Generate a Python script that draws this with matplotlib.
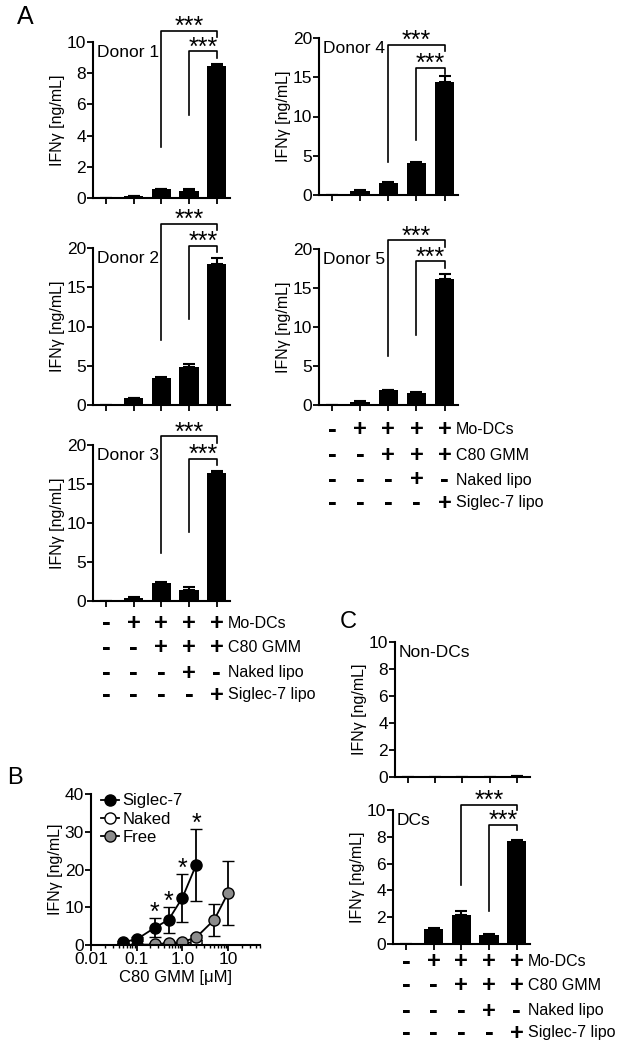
import numpy as np
import matplotlib
matplotlib.use("Agg")
import matplotlib.pyplot as plt
from matplotlib.lines import Line2D

plt.rcParams['font.family'] = ['Liberation Sans', 'DejaVu Sans']

#bar panels: IFNg per condition
conditions = [0, 1, 2, 3, 4]
donor1_vals = [0.0, 0.1, 0.55, 0.45, 8.45]
donor1_err = [0.0, 0.03, 0.05, 0.1, 0.15]
donor2_vals = [0.05, 0.85, 3.45, 4.85, 17.9]
donor2_err = [0.0, 0.08, 0.12, 0.4, 0.8]
donor3_vals = [0.0, 0.4, 2.3, 1.45, 16.4]
donor3_err = [0.0, 0.1, 0.15, 0.4, 0.3]
donor4_vals = [0.0, 0.55, 1.5, 4.1, 14.4]
donor4_err = [0.0, 0.1, 0.1, 0.1, 0.7]
donor5_vals = [0.0, 0.35, 1.9, 1.6, 16.1]
donor5_err = [0.0, 0.1, 0.08, 0.08, 0.7]
nondc_vals = [0.0, 0.0, 0.0, 0.0, 0.05]
nondc_err = [0.0, 0.0, 0.0, 0.0, 0.05]
dc_vals = [0.0, 1.1, 2.15, 0.7, 7.7]
dc_err = [0.0, 0.1, 0.35, 0.05, 0.05]

row_labels = ['Mo-DCs', 'C80 GMM', 'Naked lipo', 'Siglec-7 lipo']
row_signs = [['-', '+', '+', '+', '+'],
             ['-', '-', '+', '+', '+'],
             ['-', '-', '-', '+', '-'],
             ['-', '-', '-', '-', '+']]

#dose response (panel B)
conc_siglec = [0.05, 0.1, 0.25, 0.5, 1.0, 2.0]
ifn_siglec = [0.8, 1.5, 4.6, 6.7, 12.5, 21.2]
sd_siglec = [0.3, 0.5, 2.6, 3.4, 6.3, 9.5]
conc_naked = [0.05, 0.1, 0.25, 0.5, 1.0, 2.0]
ifn_naked = [0.0, 0.1, 0.1, 0.2, 0.3, 0.9]
sd_naked = [0.1, 0.1, 0.1, 0.1, 0.2, 0.3]
conc_free = [0.25, 0.5, 1.0, 2.0, 5.0, 10.0]
ifn_free = [0.2, 0.5, 0.8, 2.0, 6.7, 13.8]
sd_free = [0.2, 0.3, 0.5, 0.6, 4.2, 8.5]
star_conc = [0.25, 0.5, 1.0, 2.0]

W, H = 621, 1050
fig = plt.figure(figsize=(W / 100, H / 100), dpi=100)


def px_axes(l, t, r, b):
    return fig.add_axes([l / W, 1 - b / H, (r - l) / W, (b - t) / H])


def style(ax):
    for s in ['top', 'right']:
        ax.spines[s].set_visible(False)
    for s in ['left', 'bottom']:
        ax.spines[s].set_linewidth(1.5)
    ax.tick_params(direction='out', length=4, width=1.3, labelsize=12.5, pad=1)
    ax.set_ylabel('IFN\u03b3 [ng/mL]', fontsize=11.5, labelpad=1)


def bar_panel(ax, vals, errs, ymax, step, title, sig):
    ax.bar(conditions, vals, width=0.7, color='black')
    ax.errorbar(conditions, vals, yerr=[np.zeros(5), errs], fmt='none',
                ecolor='black', elinewidth=1.5, capsize=4, capthick=1.5)
    ax.set_xlim(-0.47, 4.48)
    ax.set_ylim(0, ymax)
    ax.set_yticks(np.arange(0, ymax + 0.1, step))
    ax.set_xticks(conditions)
    ax.set_xticklabels([])
    style(ax)
    ax.text(0.03, 0.98, title, transform=ax.transAxes, va='top', ha='left', fontsize=12.5)
    for x0, yb, yl in sig:
        drop = ymax * 0.04
        ax.plot([x0, x0, 4, 4], [yl, yb, yb, yb - drop], color='black', lw=1.2,
                clip_on=False)
        ax.annotate('***', xy=((x0 + 4) / 2, yb), xytext=(0, -3),
                    textcoords='offset pixels', ha='center', va='baseline',
                    fontsize=18, annotation_clip=False)


def table(ax, offsets):
    for r, (lab, signs) in enumerate(zip(row_labels, row_signs)):
        for i, s in enumerate(signs):
            fs = 17 if s == '+' else 19
            ax.annotate(s, xy=(i, 0), xycoords=('data', 'axes fraction'),
                        xytext=(0, -offsets[r]), textcoords='offset pixels',
                        ha='center', va='center', fontsize=fs, fontweight='bold',
                        annotation_clip=False)
        ax.annotate(lab, xy=(4, 0), xycoords=('data', 'axes fraction'),
                    xytext=(11, -offsets[r]), textcoords='offset pixels',
                    ha='left', va='center', fontsize=11.5, annotation_clip=False)


ax1 = px_axes(93, 42, 230, 198)
bar_panel(ax1, donor1_vals, donor1_err, 10, 2, 'Donor 1', [(2, 10.7, 3.3), (3, 9.4, 5.3)])
ax2 = px_axes(93, 248, 230, 405)
bar_panel(ax2, donor2_vals, donor2_err, 20, 5, 'Donor 2', [(2, 23.1, 8.3), (3, 20.3, 11.0)])
ax3 = px_axes(93, 445, 230, 601)
bar_panel(ax3, donor3_vals, donor3_err, 20, 5, 'Donor 3', [(2, 21.1, 6.1), (3, 18.2, 8.9)])
table(ax3, [22, 47, 72, 94])
ax4 = px_axes(319, 38, 458, 195)
bar_panel(ax4, donor4_vals, donor4_err, 20, 5, 'Donor 4', [(2, 19.1, 4.25), (3, 16.2, 7.0)])
ax5 = px_axes(319, 249, 458, 405)
bar_panel(ax5, donor5_vals, donor5_err, 20, 5, 'Donor 5', [(2, 21.1, 6.3), (3, 18.4, 9.0)])
table(ax5, [25, 50, 75, 98])

axc1 = px_axes(395, 642, 530, 777)
bar_panel(axc1, nondc_vals, nondc_err, 10, 2, 'Non-DCs', [])
axc2 = px_axes(393, 810, 530, 944)
bar_panel(axc2, dc_vals, dc_err, 10, 2, 'DCs', [(2, 10.4, 4.4), (3, 8.9, 2.5)])
table(axc2, [18, 41, 67, 89])

#panel B
axb = px_axes(91, 794, 260, 945)
axb.errorbar(conc_naked, ifn_naked, yerr=sd_naked, color='black', marker='o', ms=8,
             mfc='white', mec='black', lw=1.3, capsize=4)
axb.errorbar(conc_free, ifn_free, yerr=sd_free, color='black', marker='o', ms=8,
             mfc='#8c8c8c', mec='black', lw=1.3, capsize=4)
axb.errorbar(conc_siglec, ifn_siglec, yerr=sd_siglec, color='black', marker='o', ms=8,
             mfc='black', mec='black', lw=1.3, capsize=4)
for c in star_conc:
    i = conc_siglec.index(c)
    axb.annotate('*', xy=(c, ifn_siglec[i] + sd_siglec[i]), xytext=(0, -2),
                 textcoords='offset pixels', ha='center', va='baseline', fontsize=18)
axb.set_xscale('log')
axb.set_xlim(0.01, 50)
axb.set_ylim(0, 40)
axb.set_yticks([0, 10, 20, 30, 40])
axb.set_xticks([0.01, 0.1, 1.0, 10])
axb.set_xticklabels(['0.01', '0.1', '1.0', '10'])
style(axb)
axb.tick_params(which='minor', direction='out', length=2.5, width=1)
axb.set_xlabel('C80 GMM [\u03bcM]', fontsize=12, labelpad=2)
handles = [Line2D([], [], color='black', marker='o', ms=8, mfc=fc, mec='black', lw=1.3)
           for fc in ['black', 'white', '#8c8c8c']]
axb.legend(handles, ['Siglec-7', 'Naked', 'Free'], loc='upper left',
           bbox_to_anchor=(0.0, 1.07), frameon=False, fontsize=12, handlelength=1.1,
           handletextpad=0.2, labelspacing=0.2, borderaxespad=0.2)

fig.text(25 / W, 1 - 17 / H, 'A', fontsize=18, ha='center', va='center')
fig.text(15 / W, 1 - 778 / H, 'B', fontsize=17, ha='center', va='center')
fig.text(348 / W, 1 - 622 / H, 'C', fontsize=17, ha='center', va='center')

fig.savefig('out.png', dpi=100)
